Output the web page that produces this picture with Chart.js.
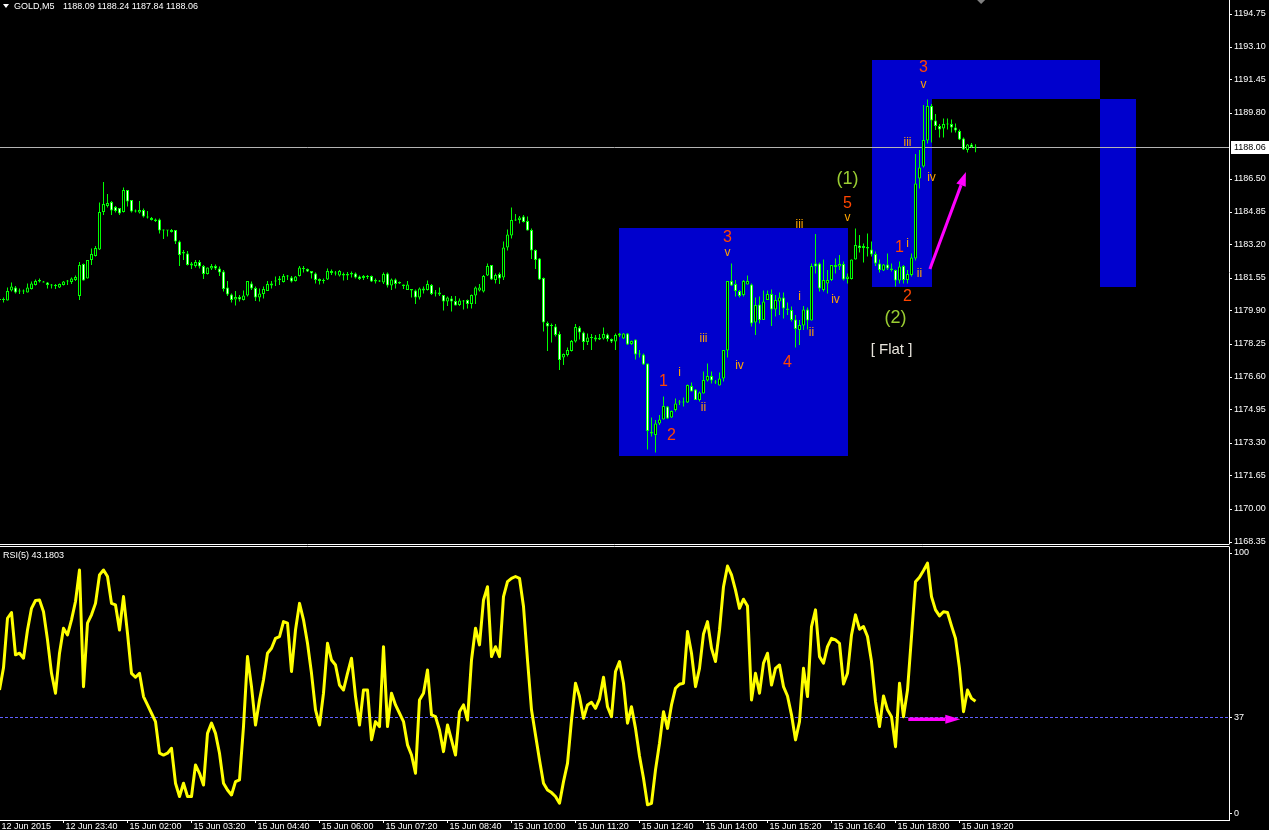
<!DOCTYPE html>
<html lang="en">
<head>
<meta charset="UTF-8">
<title>GOLD,M5</title>
<script src="https://cdn.jsdelivr.net/npm/chart.js"></script>
<style>
  html, body { margin: 0; padding: 0; background: #000; overflow: hidden; }
  #wrap { position: relative; width: 1269px; height: 830px; }
  canvas { position: absolute; left: 0; }
  #priceChart { top: 0; }
  #rsiChart { top: 544px; }
</style>
</head>
<body>
<div id="wrap">
  <canvas id="priceChart" width="1269" height="544"></canvas>
  <canvas id="rsiChart" width="1269" height="286"></canvas>
</div>
<script>
// GOLD M5 candles, one entry per bar (bar 0 = 12 Jun 22:20)
var openP = [
  1180.45,1180.45,1180.42,1180.92,1181.08,1180.88,1180.87,1180.82,1181.0,1181.2,
  1181.37,1181.38,1181.33,1181.17,1181.15,1181.08,1181.2,1181.37,1181.35,1181.45,
  1180.65,1182.25,1181.52,1182.45,1182.65,1182.98,1184.85,1185.15,1185.35,1185.1,
  1185.05,1184.85,1185.95,1185.45,1184.87,1184.82,1184.95,1184.6,1184.55,1184.48,
  1184.48,1183.95,1183.92,1183.85,1183.95,1183.37,1182.78,1182.78,1182.17,1182.15,
  1182.35,1182.15,1181.75,1182.02,1182.15,1182.03,1181.87,1181.08,1180.72,1180.47,
  1180.6,1180.45,1180.67,1181.28,1181.05,1180.58,1180.75,1180.9,1181.17,1181.37,
  1181.45,1181.35,1181.62,1181.58,1181.4,1181.65,1182.05,1182.0,1181.9,1181.78,
  1181.5,1181.45,1181.48,1181.9,1181.78,1181.67,1181.75,1181.68,1181.72,1181.78,
  1181.62,1181.55,1181.62,1181.65,1181.38,1181.42,1181.32,1181.78,1181.17,1181.48,
  1181.27,1181.23,1180.95,1181.0,1180.92,1180.58,1181.03,1180.95,1181.2,1180.78,
  1180.82,1180.7,1180.37,1180.53,1180.4,1180.2,1180.42,1180.45,1180.25,1180.67,
  1180.92,1180.87,1181.67,1182.2,1181.45,1181.75,1181.58,1183.08,1183.67,1184.42,
  1184.45,1184.62,1184.4,1183.95,1182.95,1182.53,1181.55,1179.3,1179.15,1179.12,
  1178.75,1177.57,1177.7,1177.9,1178.37,1179.08,1178.83,1178.35,1178.55,1178.58,
  1178.47,1178.53,1178.73,1178.5,1178.37,1178.68,1178.53,1178.78,1178.25,1178.48,
  1177.73,1177.73,1177.28,1173.85,1173.7,1174.28,1174.48,1175.12,1174.57,1174.95,
  1175.32,1175.32,1175.32,1176.15,1175.98,1175.45,1175.78,1176.42,1176.65,1176.33,
  1176.17,1176.53,1177.92,1181.4,1181.25,1180.9,1180.7,1181.23,1181.23,1179.32,
  1180.23,1179.45,1180.45,1180.75,1179.98,1180.37,1180.58,1180.03,1179.95,1179.48,
  1178.95,1179.17,1179.98,1179.42,1182.28,1182.28,1180.95,1181.28,1181.45,1182.2,
  1182.12,1182.25,1181.5,1181.5,1182.48,1183.17,1183.05,1183.1,1182.98,1182.75,
  1182.28,1181.92,1182.23,1182.03,1181.95,1181.42,1182.15,1181.45,1181.7,1182.53,
  1186.53,1187.12,1188.42,1190.15,1189.42,1189.15,1189.02,1189.25,1189.25,1189.07,
  1188.9,1188.53,1187.95,1188.23,1188.09
];
var highP = [
  1180.6,1180.58,1181.08,1181.33,1181.15,1181.03,1180.98,1181.28,1181.37,1181.48,
  1181.52,1181.4,1181.35,1181.25,1181.25,1181.28,1181.4,1181.45,1181.58,1181.67,
  1182.35,1182.28,1182.45,1183.03,1183.15,1185.32,1186.35,1185.75,1185.4,1185.15,
  1185.05,1186.08,1185.95,1185.45,1184.98,1185.4,1185.03,1184.9,1184.6,1184.52,
  1184.52,1183.98,1183.95,1184.0,1183.95,1183.42,1182.95,1182.9,1182.35,1182.45,
  1182.45,1182.2,1182.08,1182.25,1182.22,1182.12,1181.95,1181.4,1180.78,1180.9,
  1180.7,1180.92,1181.4,1181.37,1181.12,1181.03,1181.12,1181.4,1181.4,1181.62,
  1181.65,1181.75,1181.7,1181.65,1181.65,1182.15,1182.15,1182.03,1181.9,1181.82,
  1181.53,1181.53,1182.03,1181.98,1181.9,1181.95,1181.83,1181.85,1181.87,1181.83,
  1181.67,1181.7,1181.7,1181.67,1181.52,1181.45,1181.82,1181.82,1181.53,1181.53,
  1181.37,1181.23,1181.4,1181.0,1180.98,1181.07,1181.12,1181.42,1181.25,1180.95,
  1181.07,1180.7,1180.62,1180.65,1180.65,1180.53,1180.45,1180.48,1180.73,1181.12,
  1181.25,1181.7,1182.28,1182.2,1181.78,1181.82,1183.37,1183.98,1185.08,1184.75,
  1184.65,1184.7,1184.62,1184.03,1182.98,1182.55,1181.58,1179.37,1179.28,1179.25,
  1178.87,1177.78,1178.08,1178.45,1179.25,1179.15,1178.87,1178.78,1178.75,1178.7,
  1178.75,1179.07,1178.78,1178.52,1178.78,1178.8,1178.8,1178.8,1178.42,1178.48,
  1177.95,1177.78,1177.28,1174.58,1174.45,1174.7,1175.62,1175.15,1174.92,1175.53,
  1175.45,1175.58,1176.22,1176.32,1176.0,1175.87,1176.87,1177.28,1176.87,1176.45,
  1176.82,1177.95,1181.4,1182.28,1181.45,1180.95,1181.45,1181.67,1181.28,1180.58,
  1180.62,1180.92,1180.92,1180.98,1180.7,1180.82,1180.82,1180.32,1180.12,1179.7,
  1179.45,1180.15,1180.08,1182.28,1183.75,1182.32,1182.48,1181.95,1182.2,1182.53,
  1182.7,1182.37,1181.78,1182.48,1184.03,1183.7,1183.28,1183.78,1183.37,1182.87,
  1182.48,1182.25,1182.78,1182.28,1181.98,1182.37,1182.2,1181.95,1182.78,1187.75,
  1187.95,1190.2,1190.48,1190.25,1189.75,1189.25,1189.53,1189.53,1189.48,1189.28,
  1188.98,1188.58,1188.25,1188.3,1188.24
];
var lowP = [
  1180.35,1180.32,1180.42,1180.87,1180.78,1180.75,1180.75,1180.82,1180.98,1181.17,
  1181.32,1181.32,1181.02,1181.02,1181.0,1181.05,1181.18,1181.2,1181.25,1181.4,
  1180.45,1181.42,1181.52,1182.2,1182.62,1182.95,1184.7,1185.08,1184.7,1184.82,
  1184.7,1184.82,1185.12,1184.82,1184.82,1184.78,1184.58,1184.52,1184.42,1184.35,
  1183.78,1183.5,1183.62,1183.82,1183.25,1182.15,1182.45,1182.17,1182.0,1182.08,
  1182.03,1181.5,1181.72,1181.95,1181.95,1181.65,1180.87,1180.65,1180.32,1180.17,
  1180.37,1180.42,1180.62,1180.95,1180.4,1180.37,1180.53,1180.9,1181.03,1181.15,
  1181.2,1181.32,1181.45,1181.32,1181.38,1181.62,1181.83,1181.85,1181.52,1181.28,
  1181.22,1181.28,1181.45,1181.7,1181.67,1181.62,1181.42,1181.45,1181.58,1181.52,
  1181.45,1181.45,1181.5,1181.35,1181.28,1181.35,1181.25,1181.07,1180.95,1181.03,
  1181.25,1181.0,1180.95,1180.58,1180.25,1180.48,1180.78,1180.92,1180.7,1180.62,
  1180.65,1179.92,1180.15,1179.87,1180.17,1180.15,1179.98,1180.03,1180.03,1180.25,
  1180.87,1180.82,1181.65,1181.45,1181.28,1181.25,1181.45,1182.92,1183.53,1184.4,
  1184.28,1184.32,1183.92,1182.5,1182.0,1181.45,1178.87,1177.9,1178.33,1178.62,
  1176.95,1177.2,1177.62,1177.87,1178.33,1178.48,1177.95,1178.2,1177.95,1178.37,
  1178.45,1178.48,1178.37,1178.3,1177.95,1178.6,1178.5,1178.2,1178.2,1177.48,
  1177.58,1177.2,1172.98,1173.62,1172.82,1174.2,1174.48,1174.5,1174.55,1174.87,
  1175.2,1175.12,1175.3,1175.87,1175.45,1175.37,1175.78,1176.37,1176.28,1176.25,
  1176.17,1176.37,1177.58,1181.15,1180.62,1180.58,1180.62,1181.23,1179.12,1178.7,
  1179.28,1179.45,1180.45,1179.15,1179.62,1179.7,1179.53,1179.7,1179.37,1178.07,
  1178.2,1178.95,1178.98,1179.42,1181.78,1180.87,1180.87,1180.78,1181.4,1181.78,
  1181.95,1181.42,1181.28,1181.48,1182.48,1182.82,1182.32,1182.62,1182.62,1182.15,
  1181.82,1181.9,1181.95,1181.87,1181.12,1181.28,1181.28,1181.28,1181.62,1182.42,
  1186.03,1187.08,1188.28,1188.32,1188.95,1188.58,1188.58,1188.98,1188.82,1188.82,
  1188.45,1187.95,1187.82,1188.05,1187.84
];
var closeP = [
  1180.45,1180.47,1180.9,1181.12,1180.83,1180.9,1180.87,1181.07,1181.28,1181.4,
  1181.45,1181.32,1181.2,1181.18,1181.17,1181.25,1181.38,1181.37,1181.52,1181.6,
  1182.2,1181.42,1182.45,1182.75,1183.05,1184.85,1185.25,1185.3,1184.92,1184.9,
  1184.78,1185.95,1185.37,1184.87,1184.88,1184.95,1184.62,1184.58,1184.45,1184.4,
  1183.92,1183.92,1183.95,1183.95,1183.37,1182.7,1182.85,1182.2,1182.28,1182.35,
  1182.12,1181.75,1182.08,1182.15,1182.02,1181.82,1181.0,1180.72,1180.45,1180.6,
  1180.47,1180.68,1181.4,1181.02,1180.57,1180.78,1181.0,1181.25,1181.28,1181.43,
  1181.53,1181.65,1181.62,1181.37,1181.62,1182.08,1182.0,1181.87,1181.78,1181.45,
  1181.4,1181.4,1181.9,1181.8,1181.78,1181.9,1181.68,1181.75,1181.8,1181.58,
  1181.5,1181.65,1181.6,1181.37,1181.45,1181.38,1181.75,1181.17,1181.48,1181.25,
  1181.35,1181.15,1181.23,1180.92,1180.58,1181.03,1180.92,1181.25,1180.75,1180.78,
  1180.72,1180.37,1180.57,1180.37,1180.17,1180.42,1180.37,1180.25,1180.7,1181.07,
  1181.08,1181.65,1182.15,1181.48,1181.7,1181.53,1183.08,1183.73,1184.45,1184.48,
  1184.58,1184.35,1183.92,1182.92,1182.45,1181.48,1179.32,1179.12,1179.15,1178.7,
  1177.45,1177.75,1177.95,1178.4,1179.1,1178.82,1178.35,1178.58,1178.58,1178.47,
  1178.55,1178.75,1178.5,1178.37,1178.7,1178.78,1178.78,1178.23,1178.4,1177.73,
  1177.75,1177.23,1173.9,1173.78,1174.28,1174.48,1175.15,1174.53,1174.9,1175.28,
  1175.32,1175.33,1176.2,1175.87,1175.45,1175.82,1176.45,1176.65,1176.42,1176.33,
  1176.53,1177.95,1181.4,1181.17,1180.9,1180.65,1181.4,1181.4,1179.28,1180.2,
  1179.45,1180.37,1180.75,1179.98,1180.45,1180.57,1180.03,1179.95,1179.45,1179.0,
  1179.2,1179.98,1179.42,1182.15,1182.12,1181.03,1181.45,1181.45,1182.2,1182.1,
  1182.25,1181.48,1181.62,1182.48,1183.2,1183.05,1183.15,1183.02,1182.73,1182.28,
  1181.95,1182.23,1182.03,1181.95,1181.42,1182.12,1181.45,1181.75,1182.58,1186.28,
  1187.08,1188.45,1190.15,1189.42,1189.15,1188.98,1189.25,1189.23,1189.08,1188.92,
  1188.48,1187.98,1188.23,1188.1,1188.06
];
// RSI(5), same bars
var rsiVals = [
  47.5,56,75,77.2,61,61.6,59.7,70.5,78.8,81.8,
  82,77.5,66.7,53.9,46.3,61.6,71.2,68.6,74.4,81.4,
  93.5,48.8,73.1,76.3,80.7,91.6,93.5,91,80.7,80.1,
  70.5,83.3,69.2,53.9,52.4,53.9,45,41.8,38.6,35.4,
  23.3,22.6,23.3,25.2,11.8,6.7,11.8,6.7,6.7,18.8,
  15.6,11.1,30.9,34.8,30.9,23.3,11.8,9.2,7.3,12.4,
  13.1,33.5,60.3,48.8,34.1,43.7,51.4,61.6,63.5,67.3,
  68,73.7,73.1,54.6,70.5,80.7,74.4,65.4,53.9,39.9,
  34.1,46.3,65.4,59,57.1,49.4,47.5,53.9,59.7,45,
  34.1,47.5,47.5,28.4,35.4,33.5,64.1,33.5,46.3,41.8,
  38.6,35.4,26.5,22.6,15.6,43.7,46.3,55.2,38,37.3,
  32.2,23.9,34.1,28.4,22.6,39.2,41.8,36,59,71.2,
  64.8,82,87.1,60.3,64.1,60.3,83.3,89,90.3,91,
  90.3,79.5,59,39.9,30.3,20.7,11.8,9.2,8.2,6.7,
  4.1,12.4,19.4,36,50.1,45,36.7,41.8,42.8,40.5,
  44,52.4,41.1,37.3,54.6,58.4,50.1,34.8,41.1,32.8,
  22.2,13.7,3.5,4.1,16.9,27.1,39.2,32.8,41.8,48.2,
  49.7,50.1,69.9,61.6,48.8,55.8,69,73.7,63.5,58.4,
  70.5,87.1,95,91.6,85.8,78.8,82.3,79.7,43.7,53.9,
  46.3,57.8,61.6,49.4,55.8,57.1,48.8,45.2,38,28.4,
  35.4,55.8,45,71.8,78.2,60.3,57.8,64.1,67.3,66.7,
  65.4,49.8,53.9,68.6,76.3,70.8,71.8,68,58.4,43.1,
  33.5,45.2,39.9,37.3,25.8,50.1,37.3,47.5,68,89,
  90.7,93.3,96.1,83.3,78.2,75.9,77.5,77.2,72.1,67.3,
  55.8,39.2,47.5,44.3,43.1803
];
// time axis: one label every 16 bars
var timeLabels = ['12 Jun 2015','12 Jun 23:40','15 Jun 02:00','15 Jun 03:20','15 Jun 04:40',
  '15 Jun 06:00','15 Jun 07:20','15 Jun 08:40','15 Jun 10:00','15 Jun 11:20','15 Jun 12:40',
  '15 Jun 14:00','15 Jun 15:20','15 Jun 16:40','15 Jun 18:00','15 Jun 19:20'];
var priceTicks = [1194.75,1193.10,1191.45,1189.80,1186.50,1184.85,1183.20,1181.55,
  1179.90,1178.25,1176.60,1174.95,1173.30,1171.65,1170.00,1168.35];
var rsiTicks = [0, 37, 100];
var bidPrice = 1188.06;
var rsiLevel = 37;

// drawn objects (bar index / price anchors, like MT4 objects)
var zones = [[155, 212, 1184.05, 1172.65], [218, 275, 1192.45, 1181.10], [233, 284, 1190.50, 1181.10]];
var waveMarks = [
  ['(1)', 212, 1186.48, 'degree'], ['5', 212, 1185.28, 'minor'], ['v', 212, 1184.58, 'minute'],
  ['iii', 200, 1184.23, 'minute'], ['3', 182, 1183.58, 'minor'], ['v', 182, 1182.83, 'minute'],
  ['i', 200, 1180.60, 'minute'], ['iv', 209, 1180.45, 'minute'], ['ii', 203, 1178.83, 'minute'],
  ['iii', 176, 1178.53, 'minute'], ['4', 197, 1177.30, 'minor'], ['iv', 185, 1177.15, 'minute'],
  ['i', 170, 1176.83, 'minute'], ['1', 166, 1176.38, 'minor'], ['ii', 176, 1175.05, 'minute'],
  ['2', 168, 1173.68, 'minor'], ['3', 231, 1192.08, 'minor'], ['v', 231, 1191.23, 'minute'],
  ['iii', 227, 1188.33, 'minute'], ['iv', 233, 1186.58, 'minute'], ['1', 225, 1183.08, 'minor'],
  ['i', 227, 1183.25, 'minute'], ['ii', 230, 1181.75, 'minute'], ['2', 227, 1180.63, 'minor'],
  ['(2)', 224, 1179.53, 'degree'], ['[ Flat ]', 223, 1177.95, 'note']
];
var markStyle = {
  minor:  { font: '16px "Liberation Sans", Arial, sans-serif', color: '#FF4500' },
  minute: { font: '12px "Liberation Sans", Arial, sans-serif', color: '#FFA500' },
  degree: { font: '18px "Liberation Sans", Arial, sans-serif', color: '#9ACD32' },
  note:   { font: '15px "Liberation Sans", Arial, sans-serif', color: '#E8E4DC' }
};
var priceArrow = [232.6, 1182.0, 241.6, 1186.85];
var rsiArrow = [227.2, 36.3, 240.2, 36.3];

var axisFont = { family: 'Liberation Sans', size: 9 };
var X_MIN = 0.125, X_MAX = 307.375; // 4 px per bar over 1229 px

function drawArrow(ctx, x1, y1, x2, y2, w, headLen, headHalf) {
  var dx = x2 - x1, dy = y2 - y1, len = Math.hypot(dx, dy);
  var ux = dx / len, uy = dy / len;
  var bx = x2 - ux * headLen, by = y2 - uy * headLen;
  ctx.strokeStyle = '#FF00FF';
  ctx.fillStyle = '#FF00FF';
  ctx.lineWidth = w;
  ctx.beginPath(); ctx.moveTo(x1, y1); ctx.lineTo(bx, by); ctx.stroke();
  ctx.beginPath();
  ctx.moveTo(x2, y2);
  ctx.lineTo(bx - uy * headHalf, by + ux * headHalf);
  ctx.lineTo(bx + uy * headHalf, by - ux * headHalf);
  ctx.closePath(); ctx.fill();
}

var pricePlugin = {
  id: 'priceObjects',
  beforeDatasetsDraw: function (chart) {
    var ctx = chart.ctx, xs = chart.scales.x, ys = chart.scales.y;
    var boxes = zones.map(function (z) {
      return {
        l: Math.round(xs.getPixelForValue(z[0])), r: Math.round(xs.getPixelForValue(z[1])),
        t: Math.round(ys.getPixelForValue(z[2])), b: Math.round(ys.getPixelForValue(z[3]))
      };
    });
    ctx.save();
    ctx.fillStyle = '#0000CD';
    boxes.forEach(function (b) { ctx.fillRect(b.l, b.t, b.r - b.l, b.b - b.t); });
    // the two right boxes overlap -> MT4 shows that part black
    var a = boxes[1], c = boxes[2];
    var ol = Math.max(a.l, c.l), ot = Math.max(a.t, c.t);
    ctx.fillStyle = '#000';
    ctx.fillRect(ol, ot, Math.min(a.r, c.r) - ol, Math.min(a.b, c.b) - ot);
    // bid line
    var yb = Math.floor(ys.getPixelForValue(bidPrice)) + 0.5;
    ctx.strokeStyle = '#B4B4B4';
    ctx.lineWidth = 1;
    ctx.beginPath(); ctx.moveTo(0, yb); ctx.lineTo(chart.chartArea.right, yb); ctx.stroke();
    ctx.restore();
  },
  afterDatasetsDraw: function (chart) {
    var ctx = chart.ctx, xs = chart.scales.x, ys = chart.scales.y;
    ctx.save();
    ctx.textAlign = 'center';
    ctx.textBaseline = 'middle';
    waveMarks.forEach(function (m) {
      var st = markStyle[m[3]];
      ctx.font = st.font;
      ctx.fillStyle = st.color;
      ctx.fillText(m[0], xs.getPixelForValue(m[1]), ys.getPixelForValue(m[2]));
    });
    drawArrow(ctx, xs.getPixelForValue(priceArrow[0]), ys.getPixelForValue(priceArrow[1]),
      xs.getPixelForValue(priceArrow[2]), ys.getPixelForValue(priceArrow[3]), 3, 14, 5);
    ctx.restore();
  },
  afterDraw: function (chart) {
    var ctx = chart.ctx, xs = chart.scales.x, ys = chart.scales.y;
    ctx.save();
    // bid price box on the axis
    var yb = Math.floor(ys.getPixelForValue(bidPrice));
    ctx.fillStyle = '#fff';
    ctx.fillRect(1231, yb - 6, 38, 13);
    ctx.fillStyle = '#000';
    ctx.font = '9px "Liberation Sans"';
    ctx.textBaseline = 'middle';
    ctx.fillText(bidPrice.toFixed(2), 1234, yb + 0.5);
    // header
    ctx.fillStyle = '#fff';
    ctx.beginPath(); ctx.moveTo(3, 4); ctx.lineTo(9, 4); ctx.lineTo(6, 8); ctx.closePath(); ctx.fill();
    ctx.fillText('GOLD,M5', 14, 6.5);
    ctx.fillText(openP[openP.length - 1].toFixed(2) + ' ' + highP[highP.length - 1].toFixed(2) + ' ' +
      lowP[lowP.length - 1].toFixed(2) + ' ' + closeP[closeP.length - 1].toFixed(2), 63, 6.5);
    // chart shift marker
    var xm = xs.getPixelForValue(245.4);
    ctx.fillStyle = '#808080';
    ctx.beginPath(); ctx.moveTo(xm - 4, 0); ctx.lineTo(xm + 4, 0); ctx.lineTo(xm, 4); ctx.closePath(); ctx.fill();
    ctx.restore();
  }
};

var wicks = [], bodies = [], bodyFill = [];
for (var i = 0; i < openP.length; i++) {
  wicks.push({ x: i, y: [lowP[i], highP[i]] });
  bodies.push({ x: i, y: [openP[i], closeP[i]] });
  bodyFill.push(closeP[i] < openP[i] ? '#FFFFFF' : '#000000');
}

new Chart(document.getElementById('priceChart'), {
  type: 'bar',
  data: {
    datasets: [
      { data: bodies, backgroundColor: bodyFill, borderColor: '#00FF00', borderWidth: 1,
        borderSkipped: false, barThickness: 3, grouped: false, inflateAmount: 0, minBarLength: 1, order: 0 },
      { data: wicks, backgroundColor: '#00FF00', borderWidth: 0, barThickness: 1,
        grouped: false, inflateAmount: 0, order: 1 }
    ]
  },
  options: {
    responsive: false,
    devicePixelRatio: 1,
    animation: false,
    events: [],
    layout: { padding: 0 },
    plugins: { legend: { display: false }, tooltip: { enabled: false } },
    scales: {
      x: { type: 'linear', min: X_MIN, max: X_MAX, offset: false, display: false },
      y: {
        type: 'linear', position: 'right', min: 1168.25, max: 1195.45,
        afterBuildTicks: function (s) { s.ticks = priceTicks.map(function (v) { return { value: v }; }); },
        afterFit: function (s) { s.width = 40; s.paddingTop = 0; s.paddingBottom = 0; },
        ticks: { color: '#fff', font: axisFont, padding: 2, callback: function (v) { return v.toFixed(2); } },
        grid: { display: true, drawOnChartArea: false, drawTicks: true, tickLength: 3, color: '#fff' },
        border: { display: true, color: '#fff' }
      }
    }
  },
  plugins: [pricePlugin]
});

var rsiPlugin = {
  id: 'rsiObjects',
  beforeDatasetsDraw: function (chart) {
    var ctx = chart.ctx, ys = chart.scales.y, right = chart.chartArea.right;
    ctx.save();
    ctx.strokeStyle = '#fff';
    ctx.lineWidth = 1;
    ctx.beginPath();
    ctx.moveTo(0, 0.5); ctx.lineTo(right + 0.5, 0.5);
    ctx.moveTo(0, 2.5); ctx.lineTo(right + 0.5, 2.5);
    ctx.stroke();
    var yl = Math.round(ys.getPixelForValue(rsiLevel)) + 0.5;
    ctx.strokeStyle = '#5F5FFF';
    ctx.setLineDash([3, 2]);
    ctx.beginPath(); ctx.moveTo(0, yl); ctx.lineTo(right, yl); ctx.stroke();
    ctx.restore();
  },
  afterDatasetsDraw: function (chart) {
    var ctx = chart.ctx, xs = chart.scales.x, ys = chart.scales.y;
    ctx.save();
    drawArrow(ctx, xs.getPixelForValue(rsiArrow[0]), ys.getPixelForValue(rsiArrow[1]),
      xs.getPixelForValue(rsiArrow[2]), ys.getPixelForValue(rsiArrow[3]), 3.5, 15, 4.5);
    ctx.fillStyle = '#fff';
    ctx.font = '9px "Liberation Sans"';
    ctx.textBaseline = 'middle';
    ctx.fillText('RSI(5) ' + rsiVals[rsiVals.length - 1].toFixed(4), 3, 12);
    ctx.restore();
  }
};

new Chart(document.getElementById('rsiChart'), {
  type: 'line',
  data: {
    datasets: [{
      data: rsiVals.map(function (v, k) { return { x: k, y: v }; }),
      borderColor: '#FFFF00', borderWidth: 3, pointRadius: 0, tension: 0,
      borderJoinStyle: 'round', fill: false
    }]
  },
  options: {
    responsive: false,
    devicePixelRatio: 1,
    animation: false,
    events: [],
    layout: { padding: { top: 3 } },
    plugins: { legend: { display: false }, tooltip: { enabled: false } },
    scales: {
      x: {
        type: 'linear', position: 'bottom', min: X_MIN, max: X_MAX, offset: false,
        afterBuildTicks: function (s) { s.ticks = timeLabels.map(function (t, k) { return { value: k * 16 }; }); },
        afterFit: function (s) { s.height = 10; s.paddingLeft = 0; s.paddingRight = 0; },
        ticks: {
          color: '#fff', font: axisFont, align: 'start', labelOffset: 2, padding: -2,
          maxRotation: 0, autoSkip: false,
          callback: function (v, idx) { return timeLabels[idx]; }
        },
        grid: { display: true, drawOnChartArea: false, drawTicks: true, tickLength: 3, color: '#fff' },
        border: { display: true, color: '#fff' }
      },
      y: {
        type: 'linear', position: 'right', min: -2.3, max: 102.3,
        afterBuildTicks: function (s) { s.ticks = rsiTicks.map(function (v) { return { value: v }; }); },
        afterFit: function (s) { s.width = 40; s.paddingTop = 0; s.paddingBottom = 0; },
        ticks: { color: '#fff', font: axisFont, padding: 2, callback: function (v) { return String(v); } },
        grid: { display: true, drawOnChartArea: false, drawTicks: true, tickLength: 3, color: '#fff' },
        border: { display: true, color: '#fff' }
      }
    }
  },
  plugins: [rsiPlugin]
});
</script>
</body>
</html>
